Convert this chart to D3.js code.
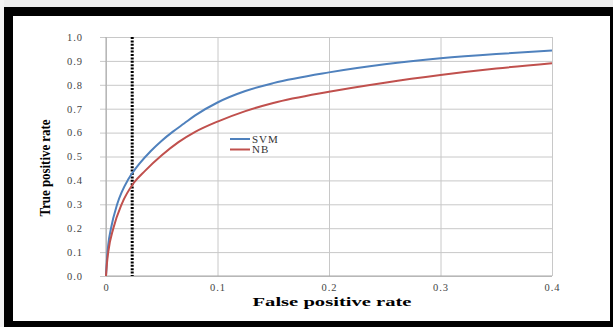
<!DOCTYPE html>
<html>
<head>
<meta charset="utf-8">
<script src="https://cdn.jsdelivr.net/npm/d3@7"></script>
<style>
  body { margin: 0; background: #fff; }
  svg { display: block; }
</style>
</head>
<body>
<div id="roc-chart"></div>
<script>
//////////////////////////////////////////////
// Data //////////////////////////////////////
//////////////////////////////////////////////
// read off the picture

var seriesNames = ["SVM", "NB"];

var svmFpr = [0, 0.001, 0.002, 0.0045, 0.01, 0.02, 0.025, 0.03, 0.04, 0.05, 0.06, 0.07, 0.08, 0.1, 0.125, 0.15, 0.2, 0.25, 0.3, 0.35, 0.4];
var svmTpr = [0, 0.08, 0.13, 0.2, 0.3, 0.405, 0.44, 0.47, 0.522, 0.566, 0.604, 0.638, 0.672, 0.726, 0.774, 0.807, 0.852, 0.886, 0.911, 0.929, 0.943];

var nbFpr = [0, 0.001, 0.002, 0.0066, 0.014, 0.025, 0.035, 0.05, 0.065, 0.08, 0.1, 0.125, 0.15, 0.2, 0.25, 0.3, 0.35, 0.4];
var nbTpr = [0, 0.06, 0.1, 0.2, 0.3, 0.39, 0.44, 0.505, 0.56, 0.603, 0.646, 0.69, 0.724, 0.771, 0.809, 0.841, 0.868, 0.89];

var xTicks = [0, 0.1, 0.2, 0.3, 0.4];
var xTickLabels = ["0", "0.1", "0.2", "0.3", "0.4"];
var yTicks = [0, 0.1, 0.2, 0.3, 0.4, 0.5, 0.6, 0.7, 0.8, 0.9, 1.0];

// operating point marked with the dotted line
var cutoffFpr = 0.0235;

function zip(xs, ys) {
  return xs.map(function(x, i) { return {fpr: x, tpr: ys[i]}; });
}
var series = [
  {name: seriesNames[0], values: zip(svmFpr, svmTpr), color: "#4f81bd"},
  {name: seriesNames[1], values: zip(nbFpr, nbTpr), color: "#c0504d"}
];

//////////////////////////////////////////////
// Chart Config /////////////////////////////
//////////////////////////////////////////////
var W = 613, H = 327;
var margin = {top: 37, right: 61, bottom: 51, left: 106},
    width = W - margin.left - margin.right,
    height = H - margin.top - margin.bottom;

var xScale = d3.scaleLinear().domain([0, 0.4]).range([0, width]);
var yScale = d3.scaleLinear().domain([0, 1]).range([height, 0]);

var serif = "'Liberation Serif', 'Times New Roman', serif";

var svg = d3.select("#roc-chart")
    .append("svg")
    .attr("width", W)
    .attr("height", H);

// outer frame
svg.append("rect").attr("x", 0).attr("y", 0).attr("width", W).attr("height", 7)
    .style("fill", "#ececec");
svg.append("rect").attr("x", 0).attr("y", 0).attr("width", 4).attr("height", H)
    .style("fill", "#f2f2f2");
svg.append("rect").attr("x", 4).attr("y", 7).attr("width", W - 4).attr("height", H - 7)
    .style("fill", "#000");
svg.append("rect").attr("x", 13).attr("y", 16).attr("width", 597).attr("height", 305)
    .style("fill", "#fff");

var artboard = svg.append("g")
    .attr("transform", "translate(" + margin.left + "," + margin.top + ")");

//////////////////////////////////////////////
// Drawing ///////////////////////////////////
//////////////////////////////////////////////

// horizontal gridlines (with small tick stubs on the left)
var yAxis = d3.axisLeft(yScale)
    .tickValues(yTicks)
    .tickSize(-width - 6)
    .tickFormat(d3.format(".1f"))
    .tickPadding(17);

var yAxisEl = artboard.append("g")
    .attr("transform", "translate(-6,0)")
    .call(yAxis);
yAxisEl.select(".domain").remove();
yAxisEl.selectAll("line").style("stroke", "#c8c8c8");
yAxisEl.selectAll("text")
    .style("font-family", serif)
    .style("font-size", "10.5px")
    .style("letter-spacing", "1px")
    .style("fill", "#444");

// vertical gridlines
var xAxis = d3.axisBottom(xScale)
    .tickValues(xTicks)
    .tickSize(-height)
    .tickFormat(function(d, i) { return xTickLabels[i]; })
    .tickPadding(8);

var xAxisEl = artboard.append("g")
    .attr("transform", "translate(0," + height + ")")
    .call(xAxis);
xAxisEl.select(".domain").remove();
xAxisEl.selectAll("line").style("stroke", "#c8c8c8");
xAxisEl.selectAll("text")
    .style("font-family", serif)
    .style("font-size", "10.5px")
    .style("letter-spacing", "1px")
    .style("fill", "#444");

// axis lines
artboard.append("line")
    .attr("x1", xScale(0)).attr("x2", xScale(0))
    .attr("y1", yScale(1)).attr("y2", yScale(0))
    .style("stroke", "#a6a6a6");
artboard.append("line")
    .attr("x1", xScale(0)).attr("x2", xScale(0.4))
    .attr("y1", yScale(0)).attr("y2", yScale(0))
    .style("stroke", "#a6a6a6");

// dotted cutoff line
artboard.append("line")
    .attr("x1", xScale(cutoffFpr)).attr("x2", xScale(cutoffFpr))
    .attr("y1", yScale(1)).attr("y2", yScale(0))
    .style("stroke", "#000")
    .style("stroke-width", 3)
    .style("stroke-dasharray", "2,1.4");

// curves
var line = d3.line()
    .x(function(d) { return xScale(d.fpr); })
    .y(function(d) { return yScale(d.tpr); })
    .curve(d3.curveMonotoneX);

artboard.selectAll(".roc")
    .data(series)
    .enter().append("path")
    .attr("class", "roc")
    .attr("d", function(d) { return line(d.values); })
    .style("fill", "none")
    .style("stroke", function(d) { return d.color; })
    .style("stroke-width", 2);

// legend
var legend = svg.append("g").attr("transform", "translate(230,139)");
var item = legend.selectAll("g")
    .data(series)
    .enter().append("g")
    .attr("transform", function(d, i) { return "translate(0," + (i * 10.5) + ")"; });
item.append("line")
    .attr("x1", 0).attr("x2", 20)
    .style("stroke", function(d) { return d.color; })
    .style("stroke-width", 2);
item.append("text")
    .attr("x", 22).attr("dy", "0.35em")
    .text(function(d) { return d.name; })
    .style("font-family", serif)
    .style("font-size", "11px")
    .style("letter-spacing", "1px")
    .style("fill", "#333");

// axis titles
svg.append("text")
    .attr("x", 332).attr("y", 306)
    .attr("text-anchor", "middle")
    .attr("textLength", 159)
    .attr("lengthAdjust", "spacingAndGlyphs")
    .text("False positive rate")
    .style("font-family", serif)
    .style("font-weight", "bold")
    .style("font-size", "13px")
    .style("fill", "#000");

svg.append("text")
    .attr("transform", "translate(50,168) rotate(-90)")
    .attr("text-anchor", "middle")
    .attr("textLength", 97)
    .attr("lengthAdjust", "spacingAndGlyphs")
    .text("True positive rate")
    .style("font-family", serif)
    .style("font-weight", "bold")
    .style("font-size", "15px")
    .style("fill", "#000");
</script>
</body>
</html>
